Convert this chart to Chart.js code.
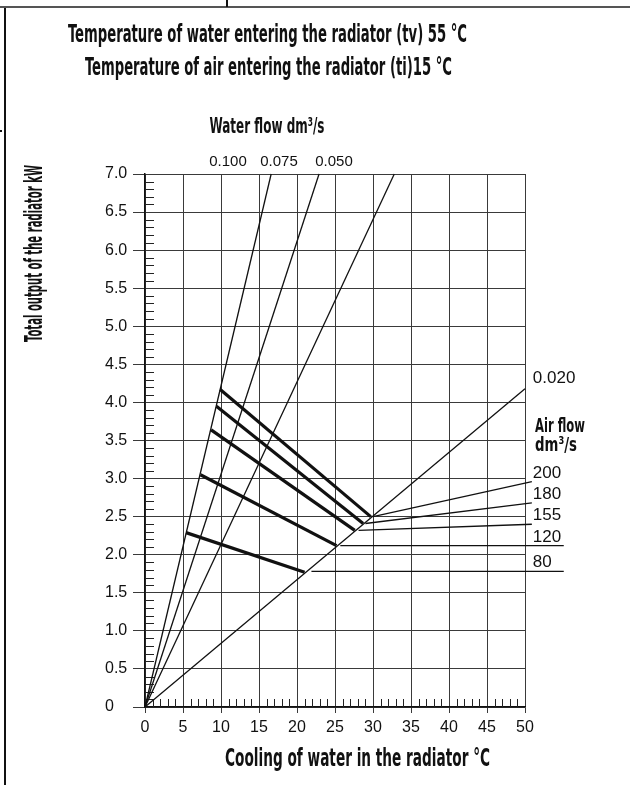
<!DOCTYPE html>
<html>
<head>
<meta charset="utf-8">
<title>Radiator output</title>
<script src="https://cdn.jsdelivr.net/npm/chart.js@4.4.1/dist/chart.umd.min.js"></script>
<style>
  html, body { margin: 0; padding: 0; background: #fff; }
  canvas { display: block; }
</style>
</head>
<body>
<canvas id="radiatorChart" width="630" height="785"></canvas>
<script>
// Water flow lines (dm3/s), each drawn from the origin to its end point
const waterFlowLabels = ['0.100', '0.075', '0.050', '0.020'];
const waterFlowEndX = [16.6, 22.9, 32.8, 50];
const waterFlowEndY = [7.0, 7.0, 7.0, 4.18];

// Air flow lines (dm3/s): thick part from the 0.100 line to the 0.020 line
const airFlowLabels = ['200', '180', '155', '120', '80'];
const airStartX = [9.9, 9.4, 8.7, 7.3, 5.4];
const airStartY = [4.17, 3.95, 3.64, 3.05, 2.29];
const airEndX = [29.7, 28.7, 27.6, 25.2, 21.0];
const airEndY = [2.50, 2.41, 2.32, 2.12, 1.77];

// thin leaders from the 0.020 line out to the air flow labels
const leaderStartX = [30.0, 29.0, 28.1, 25.7, 21.9];
const leaderStartY = [2.50, 2.41, 2.32, 2.12, 1.78];
const leaderEndY = [2.96, 2.68, 2.40, 2.12, 1.78];
const leaderBendX = 50.9;
const leaderEndX = 55.1;

// axes
const xMin = 0, xMax = 50, xStep = 5;
const yMin = 0, yMax = 7, yStep = 0.5;

const INK = '#111';
const NARROW = "'Liberation Sans Narrow', 'DejaVu Sans Condensed', sans-serif";
const PLAIN = "'Liberation Sans', Arial, sans-serif";

// Draw text squeezed/stretched to a given width
function fitText(ctx, text, x, y, width, font, align) {
  ctx.save();
  ctx.font = font;
  const w = ctx.measureText(text).width;
  ctx.translate(x, y);
  ctx.scale(width / w, 1);
  ctx.textAlign = align || 'center';
  ctx.textBaseline = 'alphabetic';
  ctx.fillText(text, 0, 0);
  ctx.restore();
}

function seg(points, width, clip) {
  return {
    data: points,
    showLine: true,
    borderColor: INK,
    borderWidth: width,
    pointRadius: 0,
    borderCapStyle: 'butt',
    clip: clip
  };
}

const datasets = [];
waterFlowLabels.forEach((lbl, i) => {
  datasets.push(seg([{ x: 0, y: 0 }, { x: waterFlowEndX[i], y: waterFlowEndY[i] }], 1.3, false));
});
airFlowLabels.forEach((lbl, i) => {
  const pts = [{ x: leaderStartX[i], y: leaderStartY[i] }];
  if (leaderEndY[i] !== leaderStartY[i]) pts.push({ x: leaderBendX, y: leaderEndY[i] });
  pts.push({ x: leaderEndX, y: leaderEndY[i] });
  datasets.push(seg(pts, 1.3, false));
});
airFlowLabels.forEach((lbl, i) => {
  datasets.push(seg([{ x: airStartX[i], y: airStartY[i] }, { x: airEndX[i], y: airEndY[i] }], 3.2, false));
});

/* ------------------------
   Minor ticks inside the plot
------------------------ */
const minorTicks = {
  id: 'minorTicks',
  beforeDatasetsDraw(chart) {
    const { ctx, chartArea: a, scales: { x, y } } = chart;
    ctx.save();
    ctx.strokeStyle = '#222';
    ctx.lineWidth = 1;
    ctx.beginPath();
    for (let i = 1; i < yMax * 10; i++) {
      if (i % 5 === 0) continue;
      const py = Math.round(y.getPixelForValue(i / 10)) + 0.5;
      ctx.moveTo(a.left, py);
      ctx.lineTo(a.left + 9, py);
    }
    for (let i = 1; i < xMax; i++) {
      if (i % 5 === 0) continue;
      const px = Math.round(x.getPixelForValue(i)) + 0.5;
      ctx.moveTo(px, a.bottom);
      ctx.lineTo(px, a.bottom - 8);
    }
    ctx.stroke();
    ctx.restore();
  }
};

/* ------------------------
   Titles, labels and page frame
------------------------ */
const annotations = {
  id: 'annotations',
  afterDraw(chart) {
    const { ctx, scales: { x, y } } = chart;
    ctx.save();
    ctx.fillStyle = INK;

    // titles
    fitText(ctx, 'Temperature of water entering the radiator (tv) 55 °C', 267.5, 42, 399, 'bold 24px ' + NARROW);
    fitText(ctx, 'Temperature of air entering the radiator (ti)15 °C', 268.5, 75, 367, 'bold 24px ' + NARROW);
    fitText(ctx, 'Water flow dm³/s', 267, 133, 115, 'bold 21px ' + NARROW);

    // axis titles
    fitText(ctx, 'Cooling of water in the radiator °C', 357.5, 766, 265, 'bold 24px ' + NARROW);
    ctx.save();
    ctx.translate(42, 253.5);
    ctx.rotate(-Math.PI / 2);
    fitText(ctx, 'Total output of the radiator kW', 0, 0, 177, 'bold 24px ' + NARROW);
    ctx.restore();

    // water flow labels above the plot
    const topLabelX = [228, 279, 334];
    ctx.font = '15px ' + PLAIN;
    ctx.textAlign = 'center';
    for (let i = 0; i < 3; i++) {
      ctx.fillText(waterFlowLabels[i], topLabelX[i], 166);
    }
    ctx.font = '17px ' + PLAIN;
    ctx.textAlign = 'left';
    ctx.fillText(waterFlowLabels[3], x.getPixelForValue(leaderBendX) + 1, y.getPixelForValue(waterFlowEndY[3]) - 6);

    // air flow labels
    fitText(ctx, 'Air flow', 535, 432, 50, 'bold 20px ' + NARROW, 'left');
    fitText(ctx, 'dm³/s', 535, 451, 42, 'bold 20px ' + NARROW, 'left');
    ctx.font = '17px ' + PLAIN;
    ctx.textAlign = 'left';
    airFlowLabels.forEach((lbl, i) => {
      ctx.fillText(lbl, x.getPixelForValue(leaderBendX) + 1, y.getPixelForValue(leaderEndY[i]) - 4);
    });

    // page frame
    ctx.fillStyle = '#555';
    ctx.fillRect(0, 6, 630, 2);
    ctx.fillStyle = INK;
    ctx.fillRect(4, 8, 2, 777);
    ctx.fillRect(226, 0, 2, 7);
    ctx.fillRect(0, 130, 2, 2);
    ctx.restore();
  }
};

const ctx = document.getElementById('radiatorChart').getContext('2d');
const radiatorChart = new Chart(ctx, {
  type: 'scatter',
  data: { datasets },
  plugins: [minorTicks, annotations],
  options: {
    responsive: false,
    animation: false,
    layout: { padding: { left: 105, right: 105, top: 174, bottom: 0 } },
    plugins: {
      legend: { display: false },
      tooltip: { enabled: false },
      title: { display: false }
    },
    scales: {
      x: {
        type: 'linear',
        min: xMin,
        max: xMax,
        ticks: { stepSize: xStep, color: INK, padding: 5, font: { family: PLAIN, size: 16 } },
        grid: { color: '#3a3a3a', lineWidth: 1, tickLength: 6 },
        border: { color: INK, width: 1.5 },
        afterFit(scale) { scale.height = 78; }
      },
      y: {
        type: 'linear',
        min: yMin,
        max: yMax,
        ticks: {
          stepSize: yStep,
          color: INK,
          padding: 3,
          crossAlign: 'far',
          font: { family: PLAIN, size: 16 },
          callback: (v) => (v === 0 ? '0' : Number(v).toFixed(1))
        },
        grid: { color: '#3a3a3a', lineWidth: 1, tickLength: 12 },
        border: { color: INK, width: 1.5 },
        afterFit(scale) { scale.width = 40; }
      }
    }
  }
});
</script>
</body>
</html>
